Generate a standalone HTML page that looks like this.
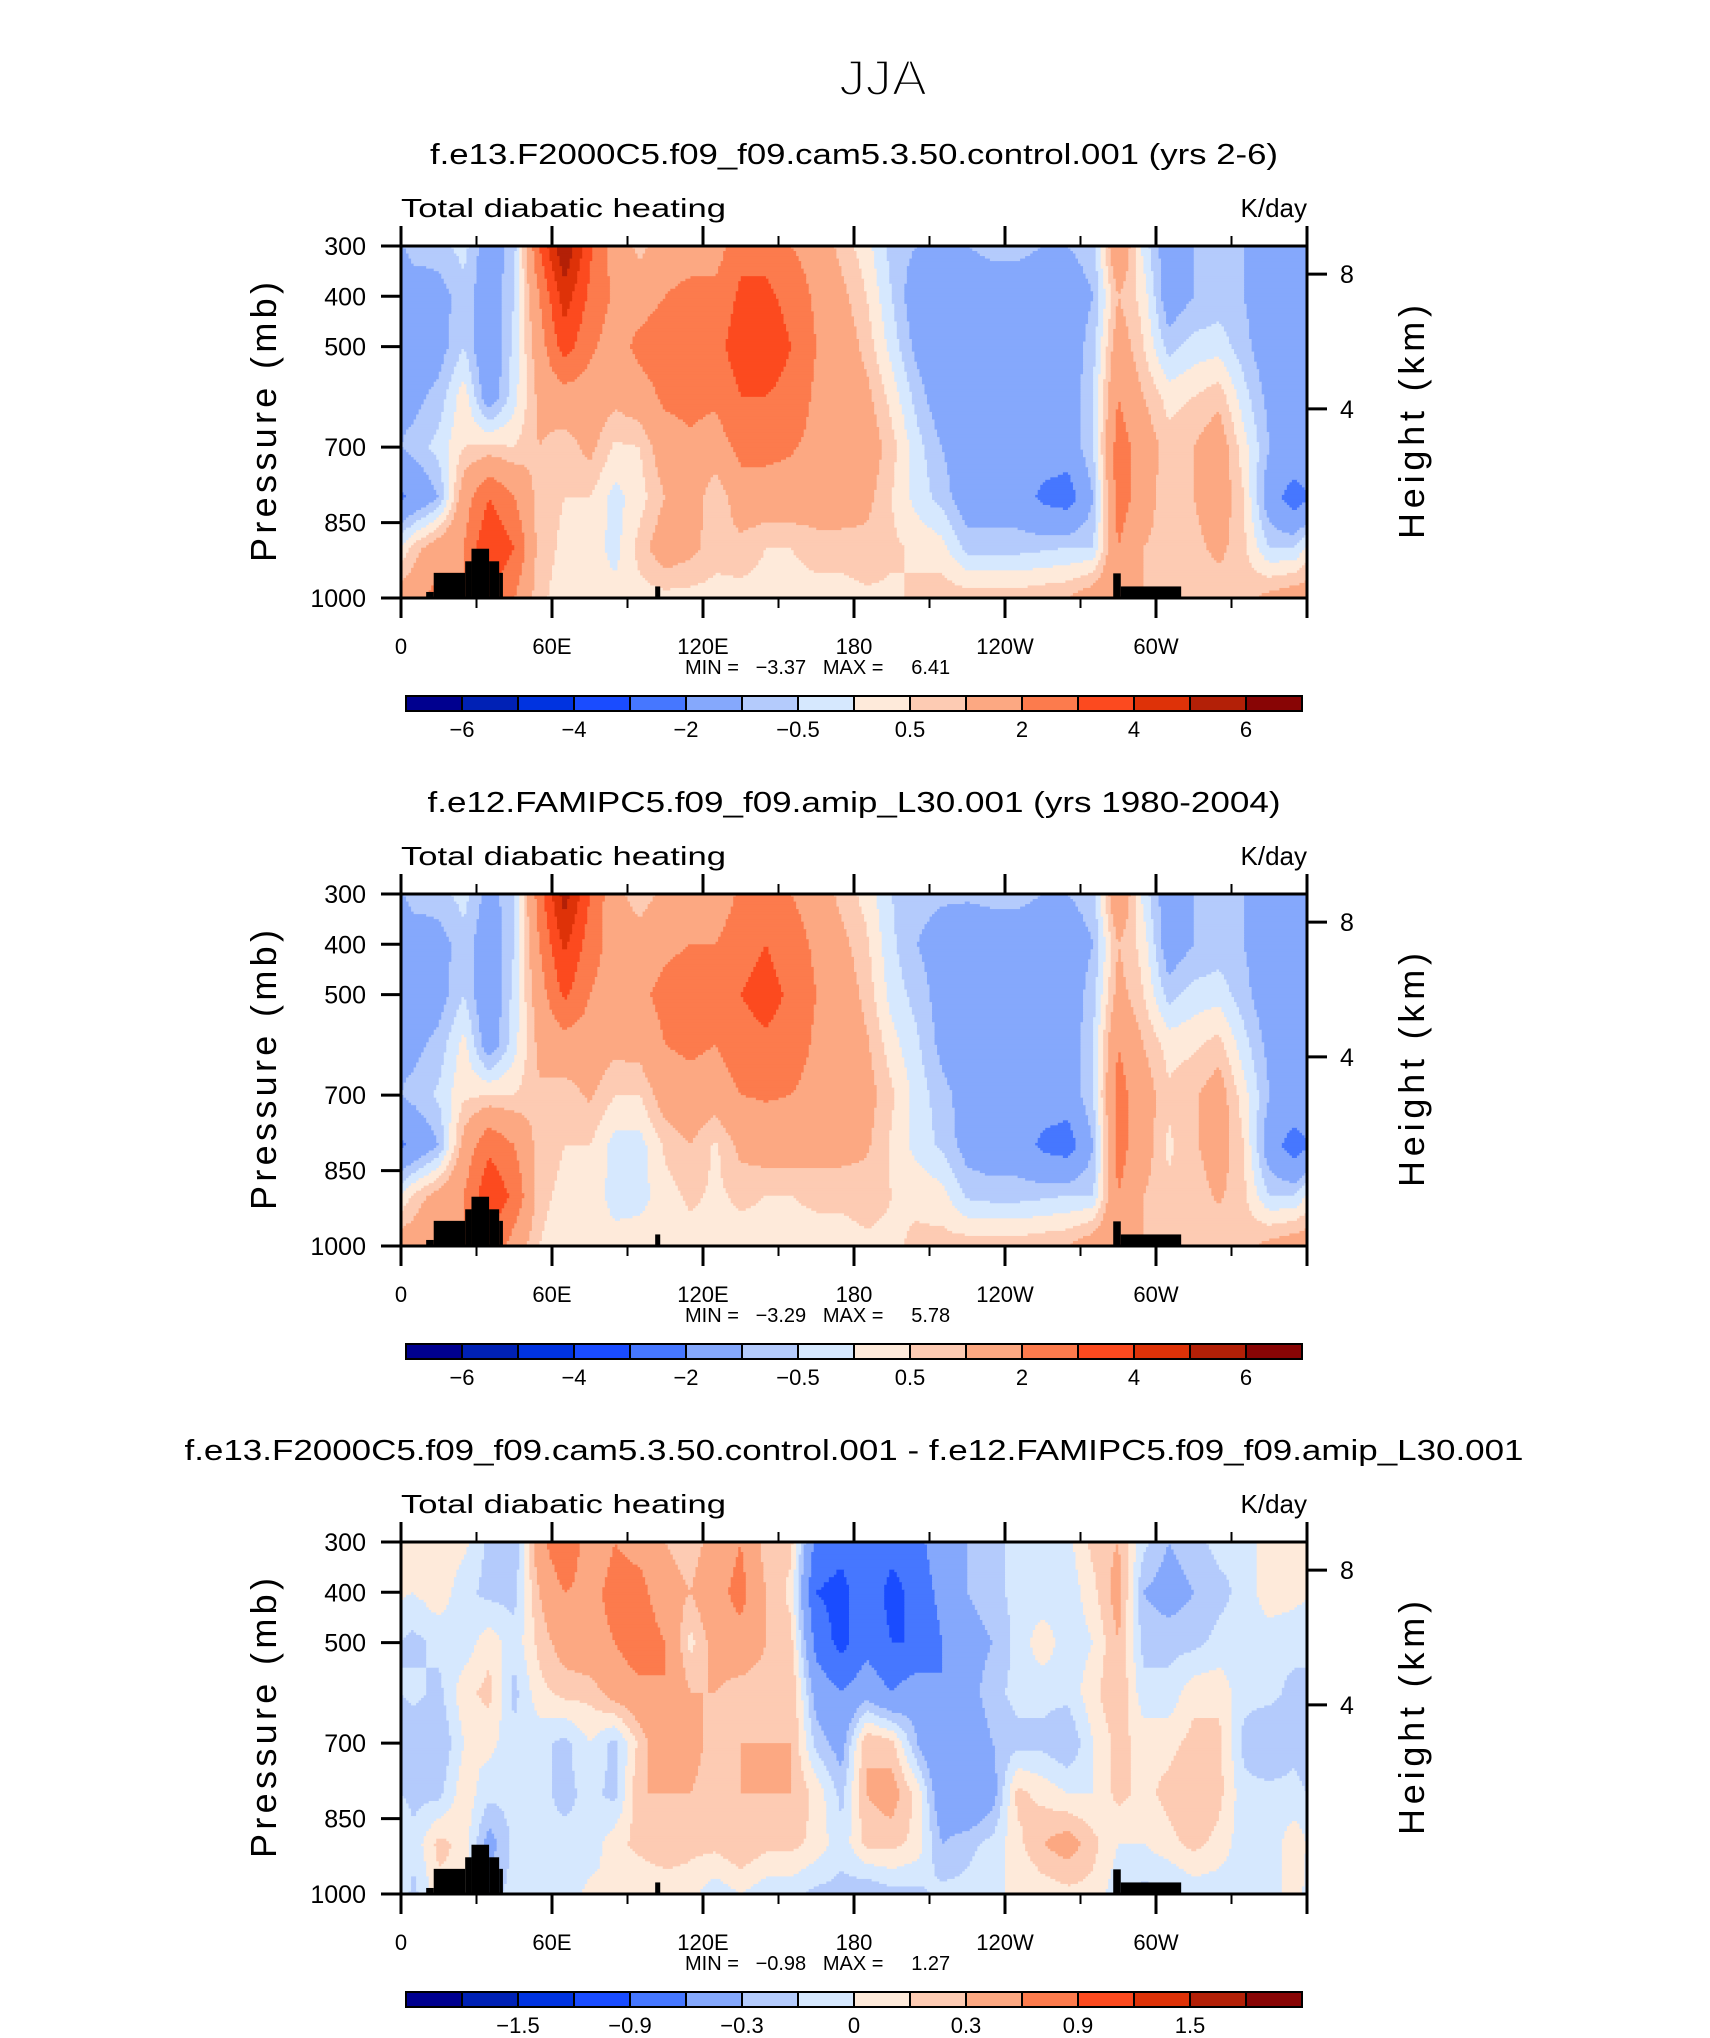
<!DOCTYPE html>
<html><head><meta charset="utf-8">
<style>
html,body{margin:0;padding:0;background:#fff;}
svg{display:block;font-family:"Liberation Sans",sans-serif;}
.pre{white-space:pre;}
</style></head>
<body>
<svg id="fig" width="1710" height="2038" viewBox="0 0 1710 2038" xmlns="http://www.w3.org/2000/svg">
<rect width="1710" height="2038" fill="#fff"/>
<text x="839" y="95" font-size="50" textLength="88" lengthAdjust="spacingAndGlyphs" fill="#000" stroke="#fff" stroke-width="2.2">JJA</text>
</svg>
<script>
const levels=[300,400,500,600,700,800,900,1000];
const lonCenters=[5,15,25,35,45,55,65,75,85,95,105,115,125,135,145,155,165,175,185,195,205,215,225,235,245,255,265,275,285,295,305,315,325,335,345,355];
const ctlHeating=[
[-0.7,-1.5,-1.5,-1.2,-0.8,-1.8,0.7,1.5],
[-0.7,-1.3,-1.3,-0.8,-0.3,-1,1.5,2.5],
[-0.3,-0.7,-0.5,0.3,0.5,1.5,2,2],
[-1.5,-1.5,-1.8,-1.5,0.6,3,4,3],
[-0.7,-0.5,-0.3,-0.2,0.5,2,3,2],
[3,2,1.5,1.2,1,0.7,0.7,0.6],
[6,4.5,3.5,1.5,0.7,0.5,0.4,0.3],
[3.2,2.8,2.2,1.5,1.2,0.5,0.3,0.2],
[1.5,1.8,1.5,1.2,0.4,-0.2,-0.2,0.2],
[0.8,1.5,2.3,1.5,0.5,0.3,0.7,0.3],
[1.5,2,2.7,2.2,1.5,1,1.5,0.3],
[1.5,2.3,2.8,2.3,1.8,1.5,1.2,0.3],
[1.5,2.3,2.7,2.2,1.5,0.5,0.7,0.3],
[2.7,3.2,3.5,3,2.3,1.5,0.8,0.3],
[2.7,3.2,3.6,3,2.3,1.5,0.5,0.3],
[2,2.7,3,2.7,2.1,1.5,0.5,0.3],
[1.5,1.8,2,1.8,1.7,1.5,0.7,0.3],
[0.8,1.2,1.5,1.5,1.5,1.5,0.7,0.3],
[0.2,0.5,0.8,1.2,1.5,1.2,0.8,0.4],
[-0.7,-0.5,-0.2,0.3,0.7,0.5,0.6,0.4],
[-1,-1.5,-1.2,-0.7,-0.3,-0.2,0.4,0.6],
[-1,-1.5,-1.5,-1.5,-1,-0.7,0.2,0.8],
[-1,-1.5,-1.5,-1.5,-1.5,-1.5,-0.7,0.8],
[-0.8,-1.5,-1.5,-1.5,-1.5,-1.5,-0.7,0.8],
[-0.8,-1.5,-1.5,-1.5,-1.5,-1.5,-0.7,0.8],
[-1,-1.5,-1.5,-1.5,-1.5,-2.2,-0.6,0.9],
[-1,-1.5,-1.5,-1.5,-1.5,-2.5,-0.5,1],
[-0.7,-1,-0.7,-0.5,-0.5,-1,-0.5,1.5],
[2,1,1.5,2,2.5,2.5,2,2],
[-0.2,0.3,0.5,1,1.5,1.5,1,1],
[-1.5,-1.5,-0.7,0.3,0.7,0.5,0.7,0.8],
[-1,-1,-0.3,0.5,1,1,0.8,0.5],
[-1,-0.8,-0.2,0.8,1.5,1.5,1.2,0.6],
[-1,-1,-0.8,-0.3,0.2,0.5,0.6,0.8],
[-1.5,-1.5,-1.5,-1.2,-1,-1.5,-0.5,1.2],
[-1.5,-1.5,-1.5,-1.2,-1.2,-2.5,-0.5,1.5]];
const amipHeating=[
[-0.7,-1.5,-1.5,-1.2,-0.8,-1.8,0.6,1.5],
[-0.7,-1.3,-1.3,-0.8,-0.4,-1,1.3,2.2],
[-0.3,-0.7,-0.5,0.2,0.4,1.3,2,2],
[-1.3,-1.5,-1.7,-1.5,0.5,2.8,3.8,3],
[-0.6,-0.5,-0.3,-0.2,0.5,2,2.8,1.5],
[2.5,2,1.5,1.2,0.9,0.7,0.6,0.5],
[5.5,4.2,3.2,1.5,0.7,0.5,0.4,0.3],
[3,2.5,2,1.5,1.1,0.5,0.3,0.2],
[1.2,1.5,1.5,1.2,0.5,-0.2,-0.2,0.2],
[0.7,1.3,1.8,1.3,0.5,-0.2,-0.2,0.3],
[1.2,1.8,2.3,2,1.4,0.6,0.3,0.3],
[1.3,2,2.5,2.2,1.6,1,0.6,0.3],
[1.3,2,2.3,2,1.4,0.4,0.4,0.3],
[2.2,2.6,3,2.6,2,1.2,0.6,0.3],
[2.4,3,3.4,2.8,2.1,1.4,0.5,0.3],
[2,2.5,2.8,2.6,2,1.4,0.5,0.3],
[1.5,1.8,2,1.8,1.6,1.3,0.6,0.3],
[0.8,1.2,1.5,1.5,1.4,1.3,0.6,0.3],
[0.3,0.6,0.8,1.1,1.3,1.1,0.7,0.4],
[-0.5,-0.4,-0.2,0.2,0.6,0.4,0.5,0.4],
[-0.8,-1,-0.7,-0.4,-0.2,-0.2,0.4,0.6],
[-0.9,-1.3,-1.3,-1.2,-0.8,-0.6,0.2,0.7],
[-0.9,-1.5,-1.5,-1.5,-1.3,-1.3,-0.6,0.8],
[-0.8,-1.5,-1.5,-1.5,-1.5,-1.5,-0.7,0.8],
[-0.8,-1.5,-1.5,-1.5,-1.5,-1.5,-0.7,0.8],
[-1,-1.5,-1.5,-1.5,-1.5,-2.2,-0.6,0.9],
[-1,-1.5,-1.5,-1.5,-1.5,-2.5,-0.5,1],
[-0.7,-1,-0.7,-0.5,-0.5,-1,-0.5,1.5],
[2,1,1.3,2,2.4,2.4,2,2],
[-0.2,0.3,0.5,1,1.4,1.4,1,1],
[-1.5,-1.5,-0.7,0.3,0.6,0.4,0.6,0.8],
[-1,-1,-0.3,0.4,0.9,0.9,0.7,0.5],
[-1,-0.8,-0.2,0.7,1.4,1.4,1.1,0.6],
[-1,-1,-0.8,-0.3,0.2,0.5,0.6,0.8],
[-1.5,-1.5,-1.5,-1.2,-1,-1.5,-0.5,1.2],
[-1.5,-1.5,-1.5,-1.2,-1.2,-2.5,-0.5,1.5]];
const diffHeating=[
[0.1,0,-0.2,-0.1,-0.3,-0.2,-0.1,-0.2],
[0.1,0.1,-0.1,-0.2,-0.3,-0.2,0.2,0.1],
[0.05,-0.1,-0.1,0.1,0,0.1,0.1,0.1],
[-0.2,-0.2,0.1,0.2,0.05,-0.1,-0.4,-0.2],
[-0.3,-0.2,-0.1,-0.2,-0.1,-0.1,-0.1,-0.1],
[0.5,0.3,0.2,0.1,-0.1,-0.1,-0.1,-0.1],
[0.9,0.6,0.4,0.2,-0.2,-0.2,-0.1,-0.1],
[0.4,0.5,0.5,0.2,0,-0.1,-0.1,0.05],
[0.6,0.7,0.6,0.4,-0.2,-0.2,0.1,0],
[0.5,0.7,0.8,0.5,0.2,0.3,0.2,0],
[0.3,0.4,0.6,0.6,0.5,0.3,0.3,0],
[0.2,0.3,0.1,0.3,0.4,0.3,0.2,0.05],
[0.4,0.5,0.4,0.3,0.2,0.2,0.2,-0.1],
[0.6,0.7,0.5,0.2,0.3,0.3,0.3,0],
[0.2,0.3,0.3,0.2,0.3,0.3,0.2,-0.1],
[0.2,0.1,0.2,0.3,0.3,0.3,0.2,-0.1],
[-0.7,-0.9,-0.7,-0.4,-0.2,0.1,0.1,-0.2],
[-0.8,-1,-1,-0.6,-0.4,-0.2,-0.1,-0.2],
[-0.7,-0.7,-0.7,-0.4,0.3,0.3,0.2,-0.3],
[-0.8,-1,-0.9,-0.6,0.2,0.4,0.2,-0.2],
[-0.7,-0.8,-0.9,-0.4,-0.3,0.1,0.1,-0.2],
[-0.4,-0.5,-0.6,-0.6,-0.6,-0.5,-0.3,-0.1],
[-0.3,-0.3,-0.4,-0.4,-0.5,-0.6,-0.2,-0.1],
[-0.2,-0.2,-0.3,-0.2,-0.3,-0.4,-0.1,0],
[-0.1,-0.1,-0.1,-0.1,-0.2,0.2,0.1,0],
[-0.1,-0.1,0.1,-0.1,-0.2,0.1,0.3,0.05],
[-0.05,-0.1,-0.1,-0.1,-0.3,0,0.4,0.1],
[0.2,0.1,0,0.1,0,0,0.2,0.1],
[0.3,0.4,0.3,0.3,0.2,0.2,0,-0.1],
[-0.1,-0.3,-0.2,-0.1,0.1,0.1,0,-0.2],
[-0.3,-0.4,-0.2,-0.1,0.1,0.2,0.1,-0.2],
[-0.2,-0.3,-0.2,0.1,0.2,0.3,0.2,-0.1],
[-0.1,-0.2,-0.1,0.1,0.2,0.2,0.1,-0.1],
[-0.1,-0.1,-0.05,-0.1,-0.2,-0.1,-0.1,-0.1],
[0.1,0.1,-0.1,-0.1,-0.3,-0.1,-0.1,-0.1],
[0.1,0.05,-0.1,-0.2,-0.2,-0.1,0.1,0.1]];
const fullLevels=[-6,-5,-4,-3,-2,-1,-0.5,0,0.5,1,2,3,4,5,6];
const fullLabels=['\u22126','\u22124','\u22122','\u22120.5','0.5','2','4','6'];
const diffLevels=[-1.8,-1.5,-1.2,-0.9,-0.6,-0.3,-0.15,0,0.15,0.3,0.6,0.9,1.2,1.5,1.8];
const diffLabels=['\u22121.5','\u22120.9','\u22120.3','0','0.3','0.9','1.5'];
const terrainLon0=[10,13,25.5,28,35,39,101,283,286];
const terrainLon1=[13,25.5,28,35,39,40.5,103,286,310];
const terrainTop=[988,950,927,902,927,950,977,951,977];
const lonTicks=[0,60,120,180,240,300];
const lonTickLabels=['0','60E','120E','180','120W','60W'];
const presTicks=[300,400,500,700,850,1000];
const heightTicks=[8,4];
const heightTickP=[356,624];
const panelTitles=['f.e13.F2000C5.f09_f09.cam5.3.50.control.001 (yrs 2-6)','f.e12.FAMIPC5.f09_f09.amip_L30.001 (yrs 1980-2004)','f.e13.F2000C5.f09_f09.cam5.3.50.control.001 - f.e12.FAMIPC5.f09_f09.amip_L30.001'];
const titleWidths=[848,853,1339];
const minVals=['\u22123.37','\u22123.29','\u22120.98'];
const maxVals=['6.41','5.78','1.27'];

const colors=['#00008f','#0021b5','#0033e0','#1a4cff','#4677ff','#85a8fc','#b4cbfc','#d6e8fe','#feeada','#fdcbb3','#fca882','#fc7b4d','#fc4a1f','#de3208','#b32007','#880505'];
const NS='http://www.w3.org/2000/svg';
const svg=document.getElementById('fig');
const L=401,R=1307,W=R-L,H=352;
function mk(tag,attrs,parent){const e=document.createElementNS(NS,tag);for(const k in attrs)e.setAttribute(k,attrs[k]);(parent||svg).appendChild(e);return e;}
function interp(data,lon,p){
  let u=(lon-lonCenters[0])/10;const n=lonCenters.length;
  let i0=Math.floor(u),f=u-i0;i0=((i0%n)+n)%n;const i1=(i0+1)%n;
  let v=(p-levels[0])/100;v=Math.max(0,Math.min(levels.length-1,v));
  let j0=Math.min(Math.floor(v),levels.length-2),g=v-j0;
  const a=data[i0][j0]*(1-f)+data[i1][j0]*f,b=data[i0][j0+1]*(1-f)+data[i1][j0+1]*f;
  return a*(1-g)+b*g;
}
function cls(val,lv){let k=0;while(k<lv.length&&val>=lv[k])k++;return k;}
function drawPanel(idx,top,data,lv,labels){
  const xs=lon=>L+lon/360*W, ys=p=>top+(p-300)/700*H;
  const g=mk('g',{});
  
  
  const t=mk('text',{x:(L+R)/2,y:top-82,'font-size':29,'text-anchor':'middle',textLength:titleWidths[idx],lengthAdjust:'spacingAndGlyphs'},g);
  t.textContent=panelTitles[idx];
  
  
  const s=mk('text',{x:L,y:top-29,'font-size':26,textLength:325,lengthAdjust:'spacingAndGlyphs'},g);
  s.textContent='Total diabatic heating';
  
  
  const u=mk('text',{x:R,y:top-29,'font-size':26,'text-anchor':'end'},g);
  u.textContent='K/day';
  
  
  const field=mk('g',{},g);
  
  
  const dl=1,dp=5;
  for(let p=300;p<1000;p+=dp){
    let start=0,cur=cls(interp(data,0.5,p+dp/2),lv);
    for(let lon=dl;lon<=360;lon+=dl){
      const c=lon<360?cls(interp(data,lon+dl/2,p+dp/2),lv):-1;
      if(c!==cur){
        const r=mk('rect',{x:xs(start).toFixed(2),y:ys(p).toFixed(2),width:(xs(lon)-xs(start)+0.6).toFixed(2),height:(ys(p+dp)-ys(p)+0.6).toFixed(2),fill:colors[cur]},field);
        
        
        start=lon;cur=c;
      }
    }
  }
  for(let i=0;i<terrainLon0.length;i++){
    const r=mk('rect',{x:xs(terrainLon0[i]),y:ys(terrainTop[i]),width:xs(terrainLon1[i])-xs(terrainLon0[i]),height:ys(1000)-ys(terrainTop[i]),fill:'#000'},g);
    
    
  }
  const fr=mk('rect',{x:L,y:top,width:W,height:H,fill:'none',stroke:'#000','stroke-width':3},g);
  
  
  for(let lon=0;lon<=360;lon+=30){
    const major=lon%60===0,len=major?20:10;
    mk('line',{x1:xs(lon),x2:xs(lon),y1:top+H,y2:top+H+len,stroke:'#000','stroke-width':major?3:2},g);
    mk('line',{x1:xs(lon),x2:xs(lon),y1:top,y2:top-len,stroke:'#000','stroke-width':major?3:2},g);
  }
  lonTicks.forEach((lon,i)=>{const e=mk('text',{x:xs(lon),y:top+H+56,'font-size':22,'text-anchor':'middle'},g);e.textContent=lonTickLabels[i];
    
    });
  presTicks.forEach(p=>{mk('line',{x1:L-20,x2:L,y1:ys(p),y2:ys(p),stroke:'#000','stroke-width':3},g);
    const e=mk('text',{x:L-35,y:ys(p)+9,'font-size':25,'text-anchor':'end'},g);e.textContent=p;
    
    });
  heightTicks.forEach((h,i)=>{const y=ys(heightTickP[i]);mk('line',{x1:R,x2:R+20,y1:y,y2:y,stroke:'#000','stroke-width':3},g);
    const e=mk('text',{x:R+33,y:y+9,'font-size':25},g);e.textContent=h;
    
    });
  const py=top+H/2;
  const pl=mk('text',{x:0,y:0,'font-size':36,'text-anchor':'middle',textLength:280,lengthAdjust:'spacing',transform:`translate(276,${py}) rotate(-90)`},g);
  pl.textContent='Pressure (mb)';
  
  
  const hl=mk('text',{x:0,y:0,'font-size':36,'text-anchor':'middle',textLength:234,lengthAdjust:'spacing',transform:`translate(1424,${py}) rotate(-90)`},g);
  hl.textContent='Height (km)';
  
  
  const mm=mk('text',{x:685,y:top+H+76,'font-size':20,'class':'pre'},g);
  mm.textContent='MIN =   '+minVals[idx]+'   MAX =     '+maxVals[idx];
  
  
  const cb=mk('g',{},g);
  
  
  const cbL=406,cbW=56,cbT=top+H+98;
  colors.forEach((c,k)=>{const r=mk('rect',{x:cbL+k*cbW,y:cbT,width:cbW,height:15,fill:c,stroke:'#000','stroke-width':2},cb);
    
    });
  const step=2, off=idx<2?1:2;
  labels.forEach((lab,i)=>{const k=off+i*step;const e=mk('text',{x:cbL+k*cbW,y:cbT+41,'font-size':22,'text-anchor':'middle'},cb);e.textContent=lab;
    
    });
}
drawPanel(0,246,ctlHeating,fullLevels,fullLabels);
drawPanel(1,894,amipHeating,fullLevels,fullLabels);
drawPanel(2,1542,diffHeating,diffLevels,diffLabels);
</script>
</body></html>
